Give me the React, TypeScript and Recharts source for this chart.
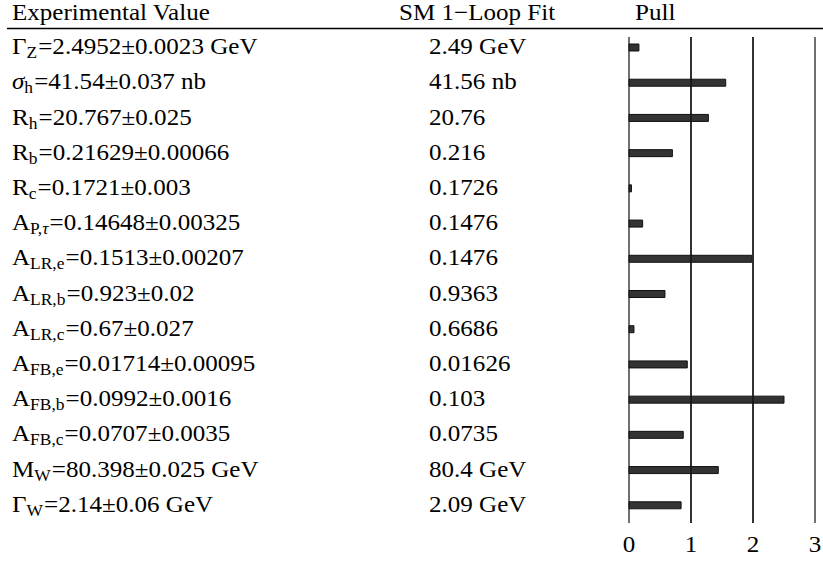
import React from 'react';
import { BarChart, Bar, XAxis, YAxis, CartesianGrid, ReferenceLine } from 'recharts';

// observables: base symbol, subscript, measured value, SM fit, pull
const symbols = ['Γ', 'σ', 'R', 'R', 'R', 'A', 'A', 'A', 'A', 'A', 'A', 'A', 'M', 'Γ'];
const subs = ['Z', 'h', 'h', 'b', 'c', 'P,τ', 'LR,e', 'LR,b', 'LR,c', 'FB,e', 'FB,b', 'FB,c', 'W', 'W'];
const measured = [
  '2.4952±0.0023 GeV',
  '41.54±0.037 nb',
  '20.767±0.025',
  '0.21629±0.00066',
  '0.1721±0.003',
  '0.14648±0.00325',
  '0.1513±0.00207',
  '0.923±0.02',
  '0.67±0.027',
  '0.01714±0.00095',
  '0.0992±0.0016',
  '0.0707±0.0035',
  '80.398±0.025 GeV',
  '2.14±0.06 GeV',
];
const fits = [
  '2.49 GeV', '41.56 nb', '20.76', '0.216', '0.1726', '0.1476', '0.1476',
  '0.9363', '0.6686', '0.01626', '0.103', '0.0735', '80.4 GeV', '2.09 GeV',
];
const pulls = [0.16, 1.56, 1.28, 0.7, 0.04, 0.22, 1.98, 0.58, 0.08, 0.94, 2.5, 0.875, 1.44, 0.84];
const pullTicks = [0, 1, 2, 3];

const data = pulls.map((p, i) => ({ key: `row${i}`, pull: p }));

const textStyle = { fontFamily: 'Liberation Serif' };
const FS = 23;
const SX = 1.09; // source picture is a little stretched sideways

const RowLabel = (props: any) => {
  const { y, index } = props;
  const i = index ?? props.payload?.index ?? 0;
  const base = y + 6.5;
  const sub = subs[i];
  return (
    <g>
      <text transform={`translate(12, ${base}) scale(${SX},1)`} fontSize={FS} style={textStyle} fill="#000">
        <tspan fontStyle={symbols[i] === 'σ' ? 'italic' : 'normal'}>{symbols[i]}</tspan>
        <tspan fontSize={16} dy={4}>
          {sub.includes('τ') ? (
            <>
              {sub.replace('τ', '')}
              <tspan fontStyle="italic">τ</tspan>
            </>
          ) : (
            sub
          )}
        </tspan>
        <tspan dy={-4} dx={1}>={measured[i]}</tspan>
      </text>
      <text transform={`translate(429, ${base}) scale(${SX},1)`} fontSize={FS} style={textStyle} fill="#000">
        {fits[i]}
      </text>
    </g>
  );
};

const PullTick = (props: any) => {
  const { x, y, payload } = props;
  return (
    <text
      transform={`translate(${x}, ${y + 21}) scale(${SX},1)`}
      textAnchor="middle"
      fontSize={FS}
      style={textStyle}
      fill="#000"
    >
      {payload.value}
    </text>
  );
};

export default function App() {
  return (
    <div style={{ position: 'absolute', left: 0, top: 0, width: 823, height: 561, background: '#fff' }}>
      <BarChart
        width={823}
        height={561}
        data={data}
        layout="vertical"
        margin={{ top: 37, right: 8, bottom: 8, left: 0 }}
      >
        <CartesianGrid horizontal={false} stroke="#222" strokeWidth={1.3} />
        <XAxis
          type="number"
          domain={[0, 3]}
          ticks={pullTicks}
          axisLine={false}
          tickLine={false}
          height={30}
          tick={<PullTick />}
        />
        <YAxis
          type="category"
          dataKey="key"
          width={629}
          axisLine={false}
          tickLine={false}
          padding={{ top: -7, bottom: 0 }}
          tick={<RowLabel />}
        />
        <Bar dataKey="pull" fill="#333" stroke="#111" strokeWidth={1} barSize={7} isAnimationActive={false} />
        {pullTicks.slice(1, 3).map((t) => (
          <ReferenceLine key={t} x={t} stroke="#111" strokeWidth={1.3} />
        ))}
      </BarChart>
      <svg width={823} height={40} style={{ position: 'absolute', left: 0, top: 0 }}>
        <text transform={`translate(12, 20) scale(${SX},1)`} fontSize={FS} style={textStyle} fill="#000">
          Experimental Value
        </text>
        <text transform={`translate(399, 20) scale(${SX},1)`} fontSize={FS} style={textStyle} fill="#000">
          SM 1−Loop Fit
        </text>
        <text transform={`translate(635, 20) scale(${SX},1)`} fontSize={FS} style={textStyle} fill="#000">
          Pull
        </text>
        <line x1={7} x2={823} y1={28.5} y2={28.5} stroke="#000" strokeWidth={1.4} />
      </svg>
    </div>
  );
}
